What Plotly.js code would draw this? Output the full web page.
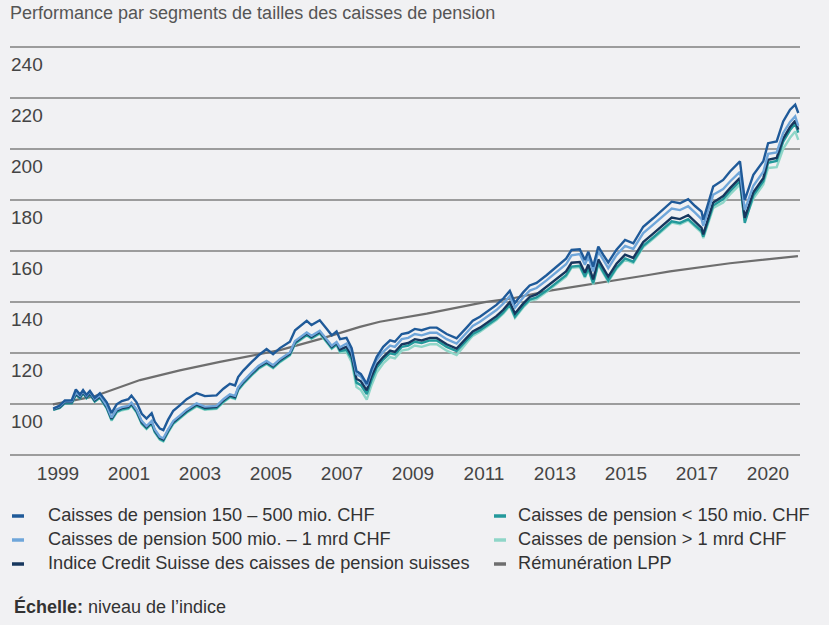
<!DOCTYPE html>
<html>
<head>
<meta charset="utf-8">
<script src="https://cdn.plot.ly/plotly-3.0.1.min.js"></script>
<style>
  html, body { margin: 0; padding: 0; background: #f1f1f3; }
  #chart { width: 829px; height: 625px; }
</style>
</head>
<body>
<div id="chart"></div>
<script>
// ---------------- DATA ----------------
const chartTitle = 'Performance par segments de tailles des caisses de pension';
const footnoteBold = 'Échelle:';
const footnoteText = ' niveau de l\u2019indice';

const seriesNames = [
  'Caisses de pension 150 \u2013 500 mio. CHF',
  'Caisses de pension 500 mio. \u2013 1 mrd CHF',
  'Indice Credit Suisse des caisses de pension suisses',
  'Caisses de pension < 150 mio. CHF',
  'Caisses de pension > 1 mrd CHF',
  'Rémunération LPP'
];

// dates (decimal years)
const dates = [
  2000.01,2000.20,2000.35,2000.55,2000.67,2000.79,2000.88,2000.98,2001.08,2001.22,
  2001.37,2001.57,2001.71,2001.86,2002.01,2002.20,2002.29,2002.44,2002.59,2002.73,
  2002.88,2002.97,2003.12,2003.22,2003.36,2003.51,2003.70,2003.90,2004.19,2004.43,
  2004.77,2004.97,2005.16,2005.31,2005.40,2005.55,2005.79,2005.99,2006.23,2006.42,
  2006.62,2006.91,2007.06,2007.25,2007.40,2007.54,2007.78,2007.98,2008.13,2008.27,
  2008.37,2008.56,2008.71,2008.85,2008.98,2009.15,2009.29,2009.44,2009.63,2009.83,
  2009.97,2010.17,2010.36,2010.55,2010.75,2010.99,2011.19,2011.48,2011.77,2012.06,
  2012.24,2012.45,2012.68,2012.93,2013.13,2013.32,2013.47,2013.71,2013.90,2014.10,
  2014.39,2014.78,2014.96,2015.12,2015.36,2015.51,2015.61,2015.75,2015.90,2016.04,
  2016.19,2016.43,2016.68,2016.92,2017.21,2017.50,2017.79,2018.04,2018.28,2018.52,
  2018.72,2018.91,2018.96,2019.25,2019.54,2019.74,2020.03,2020.17,2020.42,2020.71,
  2020.85,2021.10,2021.29,2021.49,2021.64,2021.73
];

const cp150to500 = [
  98.3,99.5,101.5,101.6,105.8,103.8,105.6,103.7,105.2,102.5,
  104.3,100.8,96.6,100.0,101.3,102.0,103.4,100.8,96.3,94.4,
  96.5,93.2,90.5,89.9,94.0,97.5,99.6,102.0,104.4,103.2,
  103.5,106.1,108.0,107.4,110.7,113.2,116.5,119.1,121.6,119.6,
  122.0,124.5,129.0,131.0,132.7,131.0,132.9,129.6,127.0,128.5,
  125.5,126.0,122.0,113.0,111.8,108.0,113.8,118.6,122.5,125.0,
  124.5,127.5,128.0,129.5,129.0,130.0,130.0,127.5,125.8,130.0,
  132.7,134.3,136.4,138.9,141.4,144.4,139.7,143.8,146.5,147.5,
  150.5,154.8,157.0,160.4,160.7,156.5,159.7,153.9,161.7,158.6,
  155.5,160.5,164.3,163.0,169.5,172.8,176.1,179.3,178.7,180.3,
  177.6,175.4,172.2,185.2,187.8,191.1,195.1,180.0,189.8,195.1,
  202.2,202.9,210.7,215.3,217.3,214.0
];

const cp500to1mrd = [
  98.2,99.3,101.2,101.2,104.6,103.3,105.2,103.3,104.8,102.0,
  103.5,99.4,94.8,98.0,98.9,99.4,100.7,98.0,93.5,91.5,
  93.5,90.2,87.3,86.7,90.2,93.5,95.6,97.9,100.4,99.1,
  99.4,102.0,103.9,103.3,106.6,109.1,112.4,115.0,117.0,115.3,
  117.7,120.3,124.8,126.8,128.1,126.8,128.8,125.5,122.9,124.4,
  122.3,123.8,120.5,111.8,110.8,107.3,112.8,117.4,120.5,123.0,
  122.5,125.5,126.0,127.5,127.0,128.0,128.0,125.5,123.8,128.0,
  130.7,132.3,134.4,136.9,139.4,142.4,137.8,141.8,144.5,145.5,
  148.5,152.7,154.8,158.3,158.8,154.6,157.8,152.0,159.8,156.7,
  153.3,158.4,162.0,160.8,167.0,170.3,173.5,176.6,176.0,177.5,
  175.0,172.5,169.8,182.0,184.2,187.2,191.0,176.0,185.5,191.0,
  198.0,198.6,206.2,210.5,212.7,209.0
];

const indiceCS = [
  98.0,99.0,100.9,100.9,104.2,102.9,104.8,102.9,104.4,101.6,
  103.1,99.0,94.4,97.6,98.5,99.0,100.3,97.6,93.1,91.1,
  93.1,89.8,86.9,86.3,89.8,93.1,95.2,97.5,100.0,98.7,
  99.0,101.6,103.5,102.9,106.2,108.7,112.0,114.6,116.6,114.9,
  117.3,119.9,124.4,126.4,127.7,126.4,128.4,125.1,122.5,124.0,
  121.5,122.5,119.0,110.0,109.0,105.5,111.0,115.5,118.5,121.0,
  120.5,123.5,124.0,125.5,125.0,126.0,126.0,123.5,121.8,126.0,
  128.5,130.0,132.0,134.5,137.0,140.0,135.5,139.4,142.0,143.0,
  146.0,150.0,152.0,155.4,155.7,151.5,154.7,148.9,156.7,153.4,
  150.0,155.0,158.6,157.3,163.5,166.8,170.0,173.1,172.5,174.0,
  171.5,169.0,166.5,179.0,181.5,184.6,188.6,173.0,183.0,188.5,
  195.7,196.4,204.0,208.5,211.0,207.5
];

const cpBelow150 = [
  97.8,98.6,100.5,100.4,103.7,102.4,104.3,102.4,103.9,101.1,
  102.6,98.5,93.9,97.1,98.0,98.5,99.8,97.1,92.6,90.6,
  92.6,89.3,86.4,85.8,89.3,92.6,94.7,97.0,99.5,98.2,
  98.5,101.1,103.0,102.4,105.7,108.2,111.5,114.1,116.1,114.4,
  116.8,119.4,123.9,125.9,127.2,125.9,127.9,124.6,122.0,123.5,
  120.8,121.3,117.8,108.5,107.5,104.0,109.5,114.3,117.5,120.0,
  119.5,122.5,123.0,124.5,124.0,125.0,125.0,122.5,120.8,125.0,
  127.5,129.0,131.0,133.5,136.0,139.0,134.3,138.4,141.0,141.8,
  144.5,148.5,150.5,153.9,154.2,150.0,153.2,147.4,155.2,151.9,
  148.5,153.5,157.1,155.8,162.0,165.3,168.5,171.6,171.0,172.5,
  170.0,167.8,165.6,177.8,180.3,183.4,187.4,171.0,181.8,187.3,
  194.5,195.2,202.8,207.3,209.8,206.3
];

const cpAbove1mrd = [
  97.9,98.8,100.6,100.6,103.9,102.6,104.5,102.6,104.1,101.3,
  102.7,98.4,93.6,96.8,97.7,98.2,99.5,96.8,92.3,90.3,
  92.3,89.0,86.1,85.5,89.0,92.3,94.4,96.7,99.2,97.9,
  98.2,100.8,102.7,102.1,105.4,107.9,111.2,113.8,115.8,114.1,
  116.5,119.1,123.6,125.6,126.9,125.6,127.6,124.3,121.7,123.2,
  120.3,120.5,116.5,106.8,105.6,101.8,107.5,112.4,116.0,118.5,
  118.0,121.0,121.5,123.0,122.5,123.5,123.5,121.0,119.3,124.0,
  126.8,128.4,130.5,133.0,135.5,138.5,133.8,137.9,140.5,141.2,
  144.0,148.0,150.0,153.4,153.7,149.5,152.7,146.9,154.7,151.4,
  148.0,153.0,156.6,155.3,161.5,164.8,168.0,171.1,170.5,172.0,
  169.5,167.2,165.0,176.8,179.0,182.1,186.1,172.0,180.5,186.0,
  192.5,192.8,200.0,204.3,206.8,203.5
];

const lppDates  = [2000.00,2001.17,2002.54,2003.70,2004.87,2006.12,2006.62,2007.78,2008.37,2008.95,
                   2009.53,2010.90,2012.59,2013.41,2014.49,2015.95,2017.32,2017.99,2019.74,2021.72];
const lppValues = [100.0,103.0,109.5,113.3,116.6,119.9,121.2,125.5,128.0,130.3,
                   132.3,135.5,140.0,141.5,144.5,147.5,150.5,152.0,155.2,158.0];

const yTickValues = [80,100,120,140,160,180,200,220,240];
const yTickLabels = ['','100','120','140','160','180','200','220','240'];
const xTickLabels = ['1999','2001','2003','2005','2007','2009','2011','2013','2015','2017','2020'];

// ---------------- STYLE / LAYOUT ----------------
const colors = ['#1f5a99','#6fa6da','#17375e','#23999b','#8fd6c8','#6e6e6e'];
const FONT = 'Liberation Sans, Arial, sans-serif';
const W = 829, H = 625, PL = 10, PR = 800, PT = 44, PB = 458;
const xRange = [1998.75, 2021.78];
const yRange = [79, 241];
const pxX = px => (px - PL) / (PR - PL);
const pxY = py => (PB - py) / (PB - PT);
const xAt = px => xRange[0] + (px - PL) / (PR - PL) * (xRange[1] - xRange[0]);
// tick labels are evenly spaced in the original
const firstTickPx = 58, tickStepPx = 71;
const xTickVals = xTickLabels.map((_, i) => xAt(firstTickPx + i * tickStepPx));

const seriesValues = [cp150to500, cp500to1mrd, indiceCS, cpBelow150, cpAbove1mrd];
const drawOrder = [4, 3, 2, 1, 0];

const traces = [{
  x: lppDates, y: lppValues, type: 'scatter', mode: 'lines', name: seriesNames[5],
  line: {color: colors[5], width: 2.2}, showlegend: false, hoverinfo: 'skip'
}];
drawOrder.forEach(i => {
  traces.push({
    x: dates, y: seriesValues[i], type: 'scatter', mode: 'lines', name: seriesNames[i],
    line: {color: colors[i], width: 2.4}, showlegend: false
  });
});

// manual legend (two columns, three rows)
const legendCols = [[0, 1, 2], [3, 4, 5]];
const colMarkX = [12, 494], colTextX = [46, 516];
const rowY = [515, 539, 563];
const annotations = [], shapes = [];
legendCols.forEach((col, c) => {
  col.forEach((idx, r) => {
    shapes.push({type: 'line', xref: 'paper', yref: 'paper',
      x0: pxX(colMarkX[c]), x1: pxX(colMarkX[c] + 12), y0: pxY(rowY[r] + 1), y1: pxY(rowY[r] + 1),
      line: {color: colors[idx], width: 3.5}});
    annotations.push({xref: 'paper', yref: 'paper', x: pxX(colTextX[c]), y: pxY(rowY[r]),
      xanchor: 'left', yanchor: 'middle', showarrow: false, text: seriesNames[idx],
      font: {family: FONT, size: 18.2, color: '#333333'}});
  });
});
annotations.push({xref: 'paper', yref: 'paper', x: pxX(12), y: pxY(606),
  xanchor: 'left', yanchor: 'middle', showarrow: false,
  text: '<b>' + footnoteBold + '</b>' + footnoteText,
  font: {family: FONT, size: 18, color: '#333333'}});

const layout = {
  width: W, height: H,
  paper_bgcolor: '#f1f1f3', plot_bgcolor: '#f1f1f3',
  margin: {l: PL, r: W - PR, t: PT, b: H - PB, pad: 0},
  showlegend: false,
  title: {text: chartTitle, xref: 'container', yref: 'container', x: 10 / W, xanchor: 'left',
          y: 1 - 13 / H, yanchor: 'middle',
          font: {family: FONT, size: 18, color: '#555555'}},
  xaxis: {range: xRange, showgrid: false, zeroline: false, showline: false,
          tickmode: 'array', tickvals: xTickVals, ticktext: xTickLabels, ticks: '',
          ticklabelstandoff: 2,
          tickfont: {family: FONT, size: 19, color: '#444444'}},
  yaxis: {range: yRange, showgrid: true, gridcolor: '#9c9c9c', gridwidth: 2, zeroline: false,
          showline: false, tickmode: 'array', tickvals: yTickValues, ticktext: yTickLabels, ticks: '',
          ticklabelposition: 'inside bottom', ticklabelshift: 4, ticklabelstandoff: -2,
          tickfont: {family: FONT, size: 19, color: '#444444'}},
  annotations: annotations, shapes: shapes
};

Plotly.newPlot('chart', traces, layout, {displayModeBar: false, staticPlot: true});
</script>
</body>
</html>
